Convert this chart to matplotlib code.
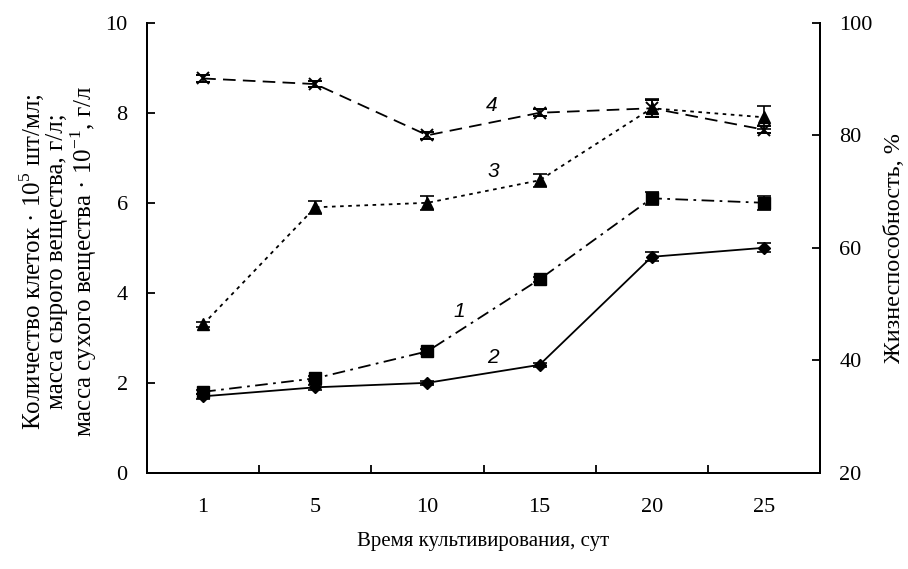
import numpy as np
import matplotlib
matplotlib.use("Agg")
import matplotlib.pyplot as plt

plt.rcParams["font.family"] = ["Liberation Serif", "DejaVu Serif"]
plt.rcParams["mathtext.fontset"] = "custom"
plt.rcParams["mathtext.rm"] = "Liberation Serif"

# данные
days = ["1", "5", "10", "15", "20", "25"]
cells = [1.8, 2.1, 2.7, 4.3, 6.1, 6.0]        # 1
cells_err = [0.05, 0.05, 0.05, 0.05, 0.15, 0.15]
wet = [1.7, 1.9, 2.0, 2.4, 4.8, 5.0]          # 2
wet_err = [0.05, 0.05, 0.05, 0.05, 0.1, 0.1]
dry = [3.3, 5.9, 6.0, 6.5, 8.1, 7.9]          # 3
dry_err = [0.05, 0.15, 0.15, 0.15, 0.2, 0.25]
viab = [90.1, 89.1, 80.0, 84.0, 84.8, 81.0]   # 4, правая ось
viab_err = [0.7, 0.6, 0.6, 0.6, 1.5, 0.6]

x = np.arange(len(days))

fig = plt.figure(figsize=(9.08, 5.69), dpi=100)
ax = fig.add_axes([0.162, 0.169, 0.741, 0.791])
ax2 = ax.twinx()

kw = dict(color="black", lw=1.3, ecolor="black", elinewidth=1.2, capsize=5, capthick=1.2)
ax.errorbar(x, wet, yerr=wet_err, marker="D", ms=6.5, ls="-", **kw)
ax.errorbar(x, cells, yerr=cells_err, marker="s", ms=8, ls=(0, (7, 3, 1.5, 3)), **kw)
ax.errorbar(x, dry, yerr=dry_err, marker="^", ms=8.5, ls=(0, (2, 2.5)), **kw)
ax2.errorbar(x, viab, yerr=viab_err, marker="x", ms=8, mew=1.4, ls=(0, (7, 4)), **kw)

# номера кривых
lab = dict(fontsize=15, style="italic", family=["Liberation Sans", "DejaVu Sans"])
ax.text(2.28, 3.58, "1", ha="center", va="center", **lab)
ax.text(2.58, 2.56, "2", ha="center", va="center", **lab)
ax.text(2.59, 6.69, "3", ha="center", va="center", **lab)
ax.text(2.57, 8.16, "4", ha="center", va="center", **lab)

ax.set_xlim(-0.5, 5.5)
ax.set_ylim(0, 10)
ax2.set_ylim(20, 100)
ax.set_xticks(x)
ax.set_xticklabels(days)
ax.set_xticks(x[:-1] + 0.5, minor=True)
ax.tick_params(axis="x", which="major", length=0, pad=18, labelsize=16)
ax.tick_params(axis="x", which="minor", direction="in", length=6, width=1.3)
ax.set_yticks([0, 2, 4, 6, 8, 10])
ax.tick_params(axis="y", direction="in", length=6, width=1.3, labelsize=16, pad=14)
ax2.set_yticks([20, 40, 60, 80, 100])
ax2.tick_params(axis="y", direction="in", length=6, width=1.3, labelsize=16, pad=14)

for a in (ax, ax2):
    a.spines["top"].set_visible(False)
    for s in ("left", "right", "bottom"):
        a.spines[s].set_linewidth(1.4)

ax.set_ylabel("Количество клеток · 10$^5$ шт/мл;\nмасса сырого вещества, г/л;\n"
              "масса сухого вещества · 10$^{-1}$, г/л", fontsize=18, linespacing=1.0)
ax.yaxis.set_label_coords(-0.072, 0.47)
ax2.set_ylabel("Жизнеспособность, %", fontsize=17.5, labelpad=8)
ax.set_xlabel("Время культивирования, сут", fontsize=15, labelpad=11)

fig.savefig("out.png", dpi=100)
